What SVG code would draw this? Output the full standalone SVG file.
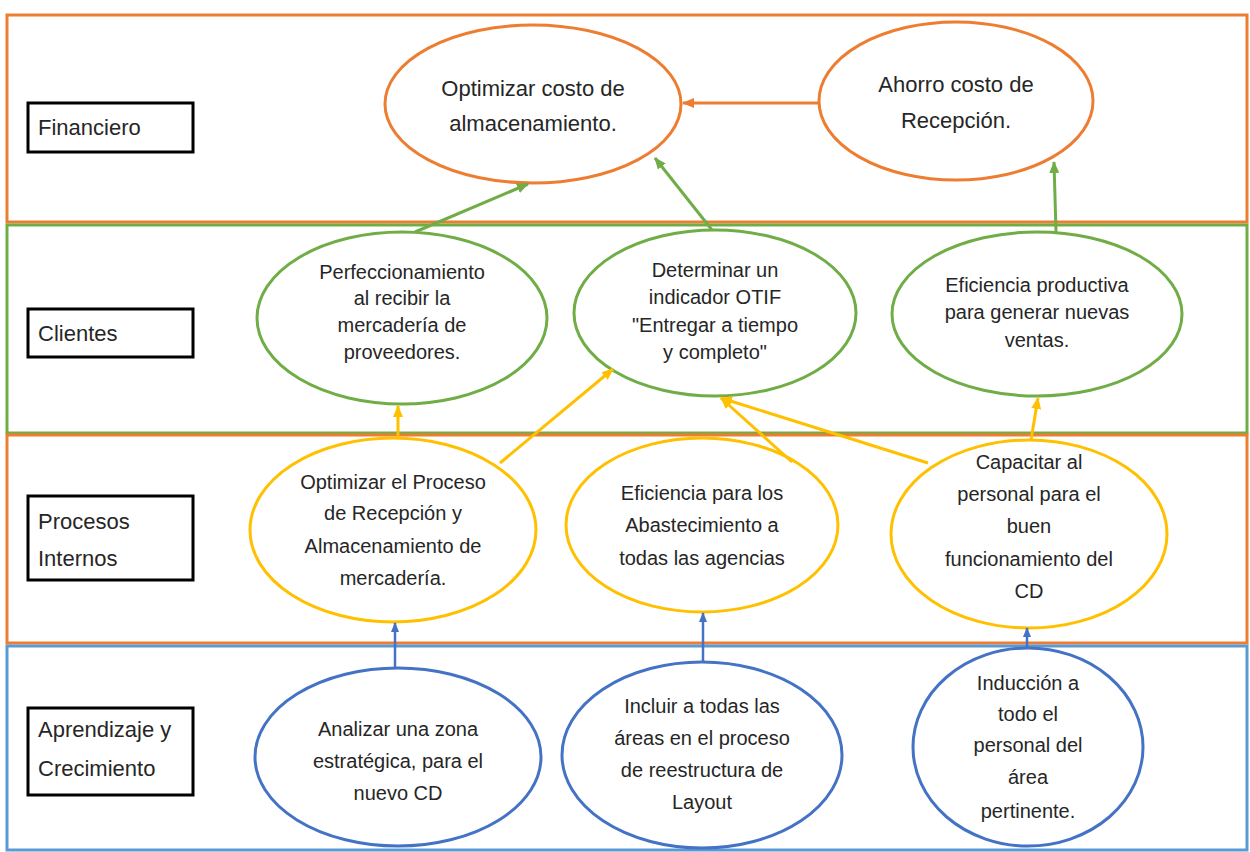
<svg xmlns="http://www.w3.org/2000/svg" width="1250" height="852" viewBox="0 0 1250 852">
<style>
.band{fill:none;stroke-width:3}
.lbl{fill:#fff;stroke:#000;stroke-width:3}
.lt{font-family:"Liberation Sans",Arial,sans-serif;font-size:22px;fill:#262626}
.nt{font-family:"Liberation Sans",Arial,sans-serif;font-size:20px;fill:#262626;text-anchor:middle}
.ft{font-family:"Liberation Sans",Arial,sans-serif;font-size:22px;fill:#262626;text-anchor:middle}
.eo{fill:#fff;stroke:#ED7D31;stroke-width:3}
.eg{fill:#fff;stroke:#70AD47;stroke-width:3}
.ey{fill:#fff;stroke:#FFC000;stroke-width:3}
.eb{fill:#fff;stroke:#4472C4;stroke-width:3}
.co{stroke:#ED7D31;stroke-width:3;fill:none}
.cg{stroke:#70AD47;stroke-width:3;fill:none}
.cy{stroke:#FFC000;stroke-width:3;fill:none}
.cb{stroke:#4472C4;stroke-width:2.5;fill:none}
</style>
<defs>
<marker id="ao" markerUnits="userSpaceOnUse" markerWidth="12" markerHeight="10" refX="11" refY="5" orient="auto"><path d="M0,0 L12,5 L0,10 z" fill="#ED7D31"/></marker>
<marker id="ag" markerUnits="userSpaceOnUse" markerWidth="12" markerHeight="10" refX="11" refY="5" orient="auto"><path d="M0,0 L12,5 L0,10 z" fill="#70AD47"/></marker>
<marker id="ay" markerUnits="userSpaceOnUse" markerWidth="12" markerHeight="10" refX="11" refY="5" orient="auto"><path d="M0,0 L12,5 L0,10 z" fill="#FFC000"/></marker>
<marker id="ab" markerUnits="userSpaceOnUse" markerWidth="10" markerHeight="8" refX="9" refY="4" orient="auto"><path d="M0,0 L10,4 L0,8 z" fill="#4472C4"/></marker>
</defs>
<rect width="1250" height="852" fill="#fff"/>
<g id="bands">
<rect class="band" x="7" y="15" width="1240" height="207" stroke="#ED7D31"/>
<rect class="band" x="7" y="225" width="1240" height="208" stroke="#70AD47"/>
<rect class="band" x="7" y="435" width="1240" height="208" stroke="#ED7D31"/>
<rect class="band" x="7" y="646" width="1240" height="204" stroke="#5B9BD5"/>
</g>
<g id="label-financiero"><rect class="lbl" x="28" y="103" width="165" height="49"/><text class="lt" x="38" y="135">Financiero</text></g>
<g id="label-clientes"><rect class="lbl" x="28" y="309" width="165" height="48"/><text class="lt" x="38" y="341">Clientes</text></g>
<g id="label-procesos"><rect class="lbl" x="28" y="496" width="165" height="84"/><text class="lt" x="38" y="529">Procesos</text><text class="lt" x="38" y="566">Internos</text></g>
<g id="label-aprendizaje"><rect class="lbl" x="28" y="708" width="165" height="87"/><text class="lt" x="38" y="737">Aprendizaje y</text><text class="lt" x="38" y="776">Crecimiento</text></g>

<g id="n-optimizar-costo"><ellipse class="eo" cx="533" cy="104" rx="148" ry="79"/><text class="ft" x="533" y="96">Optimizar costo de</text><text class="ft" x="533" y="131">almacenamiento.</text></g>
<g id="n-ahorro"><ellipse class="eo" cx="956" cy="101" rx="137" ry="79"/><text class="ft" x="956" y="92">Ahorro costo de</text><text class="ft" x="956" y="128">Recepción.</text></g>

<g id="n-perfeccionamiento"><ellipse class="eg" cx="402" cy="318" rx="145" ry="86"/><text class="nt" x="402" y="279">Perfeccionamiento</text><text class="nt" x="402" y="305">al recibir la</text><text class="nt" x="402" y="332">mercadería de</text><text class="nt" x="402" y="359">proveedores.</text></g>
<g id="n-otif"><ellipse class="eg" cx="715" cy="313" rx="141" ry="83"/><text class="nt" x="715" y="277">Determinar un</text><text class="nt" x="715" y="304">indicador OTIF</text><text class="nt" x="715" y="332">"Entregar a tiempo</text><text class="nt" x="715" y="359">y completo"</text></g>
<g id="n-eficiencia-productiva"><ellipse class="eg" cx="1037" cy="314" rx="145" ry="82"/><text class="nt" x="1037" y="292">Eficiencia productiva</text><text class="nt" x="1037" y="319">para generar nuevas</text><text class="nt" x="1037" y="347">ventas.</text></g>

<g id="n-optimizar-proceso"><ellipse class="ey" cx="393" cy="530" rx="143" ry="92"/><text class="nt" x="393" y="489">Optimizar el Proceso</text><text class="nt" x="393" y="520">de Recepción y</text><text class="nt" x="393" y="553">Almacenamiento de</text><text class="nt" x="393" y="585">mercadería.</text></g>
<g id="n-abastecimiento"><ellipse class="ey" cx="702" cy="525" rx="136" ry="87"/><text class="nt" x="702" y="500">Eficiencia para los</text><text class="nt" x="702" y="532">Abastecimiento a</text><text class="nt" x="702" y="565">todas las agencias</text></g>
<g id="n-capacitar"><ellipse class="ey" cx="1029" cy="534" rx="138" ry="94"/><text class="nt" x="1029" y="469">Capacitar al</text><text class="nt" x="1029" y="501">personal para el</text><text class="nt" x="1029" y="533">buen</text><text class="nt" x="1029" y="566">funcionamiento del</text><text class="nt" x="1029" y="598">CD</text></g>

<g id="n-analizar"><ellipse class="eb" cx="398" cy="757" rx="143" ry="89"/><text class="nt" x="398" y="736">Analizar una zona</text><text class="nt" x="398" y="768">estratégica, para el</text><text class="nt" x="398" y="800">nuevo CD</text></g>
<g id="n-incluir"><ellipse class="eb" cx="702" cy="755" rx="140" ry="93"/><text class="nt" x="702" y="713">Incluir a todas las</text><text class="nt" x="702" y="745">áreas en el proceso</text><text class="nt" x="702" y="777">de reestructura de</text><text class="nt" x="702" y="809">Layout</text></g>
<g id="n-induccion"><ellipse class="eb" cx="1028" cy="747" rx="115" ry="99"/><text class="nt" x="1028" y="690">Inducción a</text><text class="nt" x="1028" y="721">todo el</text><text class="nt" x="1028" y="752">personal del</text><text class="nt" x="1028" y="784">área</text><text class="nt" x="1028" y="818">pertinente.</text></g>

<g id="connectors">
<line class="co" x1="819" y1="103" x2="683" y2="103" marker-end="url(#ao)"/>
<line class="cg" x1="415" y1="232" x2="528" y2="184" marker-end="url(#ag)"/>
<line class="cg" x1="712" y1="230" x2="655" y2="158" marker-end="url(#ag)"/>
<line class="cg" x1="1056" y1="232" x2="1054" y2="162" marker-end="url(#ag)"/>
<line class="cy" x1="398" y1="438" x2="398" y2="406" marker-end="url(#ay)"/>
<line class="cy" x1="500" y1="463" x2="613" y2="369" marker-end="url(#ay)"/>
<line class="cy" x1="792" y1="462" x2="721" y2="398" marker-end="url(#ay)"/>
<line class="cy" x1="928" y1="463" x2="721" y2="398" marker-end="url(#ay)"/>
<line class="cy" x1="1031" y1="440" x2="1038" y2="398" marker-end="url(#ay)"/>
<line class="cb" x1="395" y1="668" x2="395" y2="623" marker-end="url(#ab)"/>
<line class="cb" x1="703" y1="662" x2="703" y2="613" marker-end="url(#ab)"/>
<line class="cb" x1="1027" y1="648" x2="1027" y2="628" marker-end="url(#ab)"/>
</g>
</svg>
